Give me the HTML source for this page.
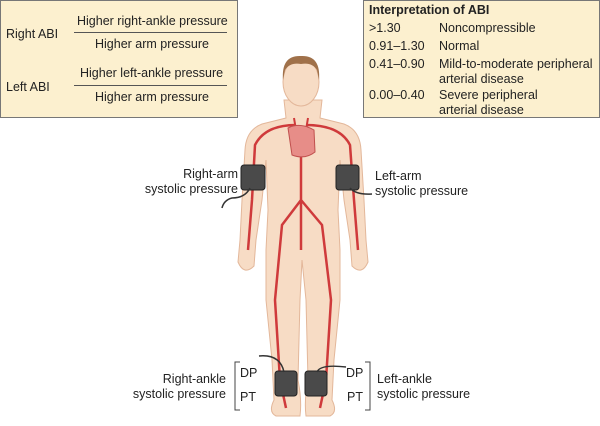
<!DOCTYPE html>
<html><head><style>
body{margin:0;width:600px;height:426px;background:#fff;font-family:"Liberation Sans",sans-serif;position:relative;overflow:hidden;color:#222}
.t{position:absolute;font-size:12.5px;white-space:nowrap;line-height:15px}
.box{position:absolute;background:#fcf0cf;border:1px solid #777}
</style></head><body>
<div class="box" style="left:0;top:0;width:236px;height:116px"></div>
<div class="t" style="left:6px;top:27px">Right ABI</div>
<div class="t" style="left:77px;top:14px">Higher right-ankle pressure</div>
<div style="position:absolute;left:74px;top:32px;width:153px;height:1px;background:#555"></div>
<div class="t" style="left:95px;top:37px">Higher arm pressure</div>
<div class="t" style="left:6px;top:80px">Left ABI</div>
<div class="t" style="left:80px;top:66px">Higher left-ankle pressure</div>
<div style="position:absolute;left:74px;top:85px;width:153px;height:1px;background:#555"></div>
<div class="t" style="left:95px;top:90px">Higher arm pressure</div>

<div class="box" style="left:363px;top:0;width:235px;height:116px"></div>
<div class="t" style="left:369px;top:3px;font-weight:bold">Interpretation of ABI</div>
<div class="t" style="left:369px;top:21px">&gt;1.30</div><div class="t" style="left:439px;top:21px">Noncompressible</div>
<div class="t" style="left:369px;top:39px">0.91–1.30</div><div class="t" style="left:439px;top:39px">Normal</div>
<div class="t" style="left:369px;top:57px">0.41–0.90</div><div class="t" style="left:439px;top:57px">Mild-to-moderate peripheral<br>arterial disease</div>
<div class="t" style="left:369px;top:88px">0.00–0.40</div><div class="t" style="left:439px;top:88px">Severe peripheral<br>arterial disease</div>

<svg style="position:absolute;left:0;top:0" width="600" height="426">
<g fill="#f7dcc5" stroke="#e3b79a" stroke-width="1">
<path d="M284,100 L286,118 L262,124 Q246,130 245,150 L242,200 L240,240 L238,262 Q244,276 254,266 L256,240 L262,200 L266,160 L268,210 L266,250 L266,300 L272,360 L274,400 Q268,412 276,416 L300,416 Q302,400 298,380 L300,300 L302,260 L306,300 L308,380 Q304,400 306,416 L330,416 Q338,412 332,400 L334,360 L340,300 L340,250 L338,210 L340,160 L344,200 L350,240 L352,266 Q362,276 368,262 L366,240 L364,200 L361,150 Q360,130 344,124 L320,118 L322,100 Z"/>
<ellipse cx="301" cy="82" rx="18" ry="24"/>
</g>
<path d="M283,80 Q281,55 301,56 Q321,55 319,80 L317,70 Q312,62 301,64 Q290,62 285,70 Z" fill="#a0714a"/>
<g fill="none" stroke="#cf3a3b" stroke-width="2.5">
<path d="M301,132 L301,250 M301,200 L282,225 L275,300 L280,380 L286,408 M301,200 L322,225 L331,300 L326,380 L320,408"/>
<path d="M296,125 Q265,125 255,145 L252,200 L248,250 M306,125 Q340,125 350,145 L354,200 L358,250"/>
<path d="M294,118 L296,130 M308,118 L306,130" stroke-width="2"/>
</g>
<path d="M288,128 Q300,122 314,130 L315,152 Q305,160 292,155 Z" fill="#e78d88" stroke="#c0504e"/>
<g fill="#4a4a4a" stroke="#222">
<rect x="241" y="165" width="24" height="25" rx="3"/>
<rect x="336" y="165" width="23" height="25" rx="3"/>
<rect x="275" y="371" width="22" height="25" rx="3"/>
<rect x="305" y="371" width="22" height="25" rx="3"/>
</g>
<g fill="none" stroke="#333" stroke-width="1.5">
<path d="M250,188 Q245,198 232,198 Q224,200 222,208"/>
<path d="M350,188 Q356,195 372,194"/>
<path d="M259,356 Q280,354 284,372"/>
<path d="M346,367 Q320,364 317,372"/>
</g>
<g fill="none" stroke="#444" stroke-width="1">
<path d="M240,362 H235 V410 H240"/>
<path d="M365,362 H370 V410 H365"/>
</g>
</svg>
<div class="t" style="left:125px;top:167px;width:113px;text-align:right">Right-arm<br>systolic pressure</div>
<div class="t" style="left:375px;top:169px">Left-arm<br>systolic pressure</div>
<div class="t" style="left:110px;top:372px;text-align:right;width:116px">Right-ankle<br>systolic pressure</div>
<div class="t" style="left:377px;top:372px">Left-ankle<br>systolic pressure</div>
<div class="t" style="left:240px;top:366px">DP</div>
<div class="t" style="left:240px;top:390px">PT</div>
<div class="t" style="left:346px;top:366px">DP</div>
<div class="t" style="left:347px;top:390px">PT</div>
</body></html>
